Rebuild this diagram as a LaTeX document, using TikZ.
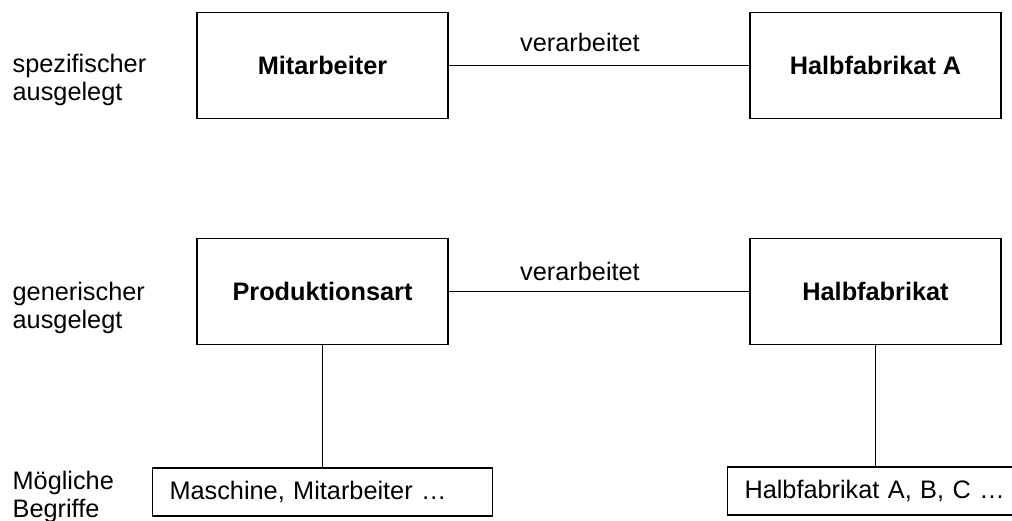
\documentclass[tikz,border=0pt]{standalone}
\usepackage{fontspec}
\setmainfont{Liberation Sans}
\usetikzlibrary{positioning}

\tikzset{
	schrift/.style={font=\fontsize{25.3}{28.5}\selectfont},
	begriff/.style={draw,line width=1.3pt,minimum width=251pt,minimum height=106pt,font=\fontsize{25.3}{28.5}\selectfont\bfseries},
	liste/.style={draw,line width=1.3pt,minimum height=48pt,inner xsep=17pt,inner ysep=0pt,align=left,schrift},
	ebene/.style={inner sep=0pt,anchor=west,align=left,schrift},
	relation/.style={inner sep=0pt,schrift}
}

\begin{document}
\begin{tikzpicture}[x=1pt,y=-1pt,line width=1.3pt]
			\useasboundingbox (0,0) rectangle (1012,520);

			\node[begriff] (mitarbeiter) at (322.5,65.5) {Mitarbeiter};
			\node[begriff] (halbA) at (875.5,65.5) {Halbfabrikat A};
			\node[begriff] (produktion) at (322.5,291.5) {Produktionsart};
			\node[begriff] (halb) at (875.5,291.5) {Halbfabrikat};

			\node[liste,text width=306pt] (listeP) at (322.5,492) {Maschine, Mitarbeiter …};
			\node[liste,text width=262pt] (listeH) at (875.5,491) {Halbfabrikat A, B, C …};

			\node[ebene] (spezifisch) at (12,80) {spezifischer\\ausgelegt};
			\node[ebene] (generisch) at (12,308) {generischer\\ausgelegt};
			\node[ebene] (moeglich) at (12,497) {Mögliche\\Begriffe};

			\node[relation] (rel1) at (580,42) {verarbeitet};
			\node[relation] (rel2) at (580,271) {verarbeitet};

			\draw (mitarbeiter) -- (halbA);
			\draw (produktion) -- (halb);
			\draw (produktion) -- (listeP);
			\draw (halb) -- (listeH);
		\end{tikzpicture}
\end{document}
